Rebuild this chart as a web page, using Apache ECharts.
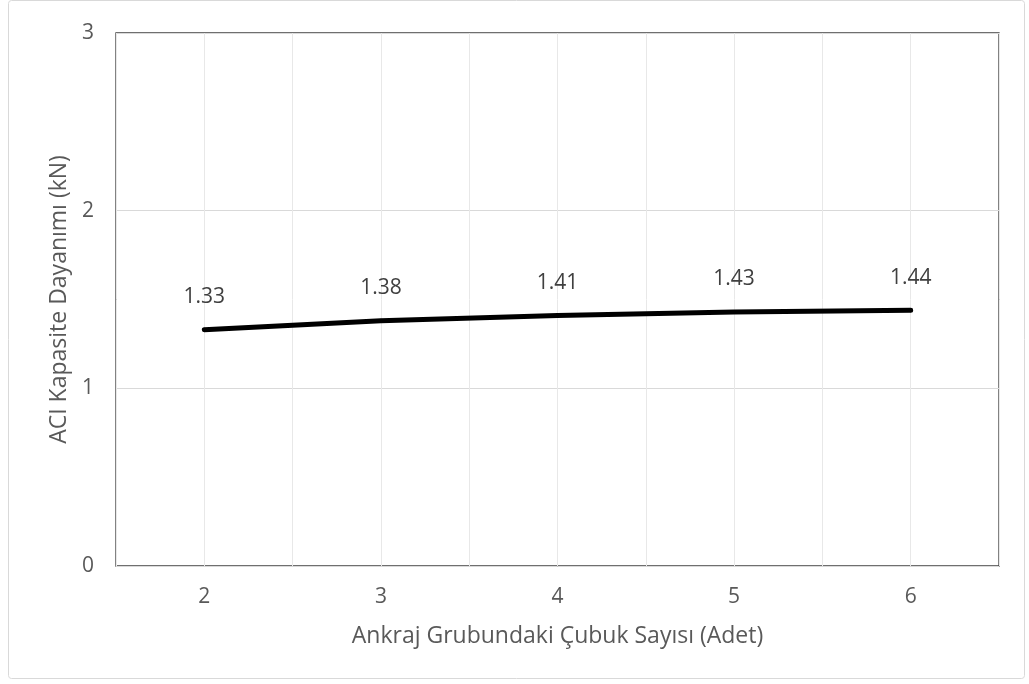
<!DOCTYPE html>
<html><head><meta charset="utf-8">
<script src="https://cdn.jsdelivr.net/npm/echarts@6/dist/echarts.min.js"></script>
<style>html,body{margin:0;padding:0;background:#fff}#c{width:1029px;height:684px}</style>
</head><body><div id="c"></div>
<script>
const barCounts = [2, 3, 4, 5, 6];
const capacity = [1.33, 1.38, 1.41, 1.43, 1.44];
const xTitle = 'Ankraj Grubundaki Çubuk Sayısı (Adet)';
const yTitle = 'ACI Kapasite Dayanımı (kN)';

const chart = echarts.init(document.getElementById('c'), null, {renderer: 'canvas'});
const font = 'Open Sans';
chart.setOption({
  animation: false,
  graphic: [{
    type: 'rect', shape: {x: 8.5, y: 0.5, width: 1016, height: 678, r: 3},
    style: {fill: 'none', stroke: '#d9d9d9', lineWidth: 1}, z: -10
  }],
  grid: {left: 116, right: 30, top: 33, bottom: 118, show: true, borderColor: '#404040', borderWidth: 1.3, backgroundColor: 'transparent'},
  xAxis: {
    type: 'value', min: 1.5, max: 6.5, interval: 0.5,
    name: xTitle, nameLocation: 'middle', nameGap: 59,
    nameTextStyle: {fontFamily: font, fontSize: 23, color: '#595959'},
    axisLine: {show: false}, axisTick: {show: false},
    axisLabel: {fontFamily: font, fontSize: 21, color: '#595959', margin: 21,
      formatter: v => (Math.abs(v - Math.round(v)) < 1e-9 ? String(Math.round(v)) : '')},
    splitLine: {show: true, lineStyle: {color: '#e8e8e8', width: 1}}
  },
  yAxis: {
    type: 'value', min: 0, max: 3, interval: 1,
    name: yTitle, nameLocation: 'middle', nameGap: 44,
    nameTextStyle: {fontFamily: font, fontSize: 23, color: '#595959'},
    axisLine: {show: false}, axisTick: {show: false},
    axisLabel: {fontFamily: font, fontSize: 21, color: '#595959', margin: 22},
    splitLine: {show: true, lineStyle: {color: '#d9d9d9', width: 1}}
  },
  series: [{
    type: 'line',
    data: barCounts.map((x, i) => [x, capacity[i]]),
    showSymbol: true, symbol: 'circle', symbolSize: 4,
    itemStyle: {color: '#000', borderWidth: 0},
    lineStyle: {color: '#000', width: 5, cap: 'round', join: 'round'},
    label: {show: true, position: 'top', distance: 20, fontFamily: font, fontSize: 21, color: '#404040',
      formatter: p => p.value[1].toFixed(2)}
  }]
});
</script></body></html>
